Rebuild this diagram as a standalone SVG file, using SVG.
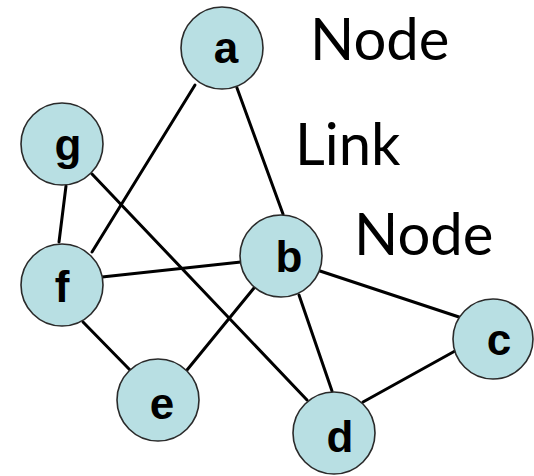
<svg xmlns="http://www.w3.org/2000/svg" width="534" height="476" viewBox="0 0 534 476">
  <style>
    .edge { stroke: #000; stroke-width: 3; stroke-linecap: round; fill: none; }
    .node circle { fill: #b8dfe3; stroke: #2a2a2a; stroke-width: 1.6; }
    .node text { font-family: "Liberation Sans", Arial, sans-serif; font-weight: bold; font-size: 44px; fill: #000; text-anchor: middle; }
    .note { font-family: Lato, "Open Sans", sans-serif; font-size: 58px; fill: #000; }
  </style>
  <rect width="534" height="476" fill="#fff"/>

  <!-- links -->
  <g id="edges">
    <line class="edge" x1="195" y1="85" x2="92" y2="252"/>
    <line class="edge" x1="237" y1="88" x2="283" y2="214"/>
    <line class="edge" x1="66" y1="186" x2="59" y2="242"/>
    <line class="edge" x1="92" y1="174" x2="307" y2="400"/>
    <line class="edge" x1="102" y1="277" x2="241" y2="262"/>
    <line class="edge" x1="83" y1="322" x2="130" y2="370"/>
    <line class="edge" x1="254" y1="288" x2="187" y2="370"/>
    <line class="edge" x1="299" y1="295" x2="332" y2="391"/>
    <line class="edge" x1="320" y1="271" x2="459" y2="317"/>
    <line class="edge" x1="455" y1="351" x2="363" y2="402"/>
  </g>

  <!-- nodes -->
  <g id="node-a" class="node"><circle cx="222" cy="48" r="41"/><text x="226" y="63">a</text></g>
  <g id="node-g" class="node"><circle cx="62" cy="144" r="41"/><text x="68" y="160">g</text></g>
  <g id="node-f" class="node"><circle cx="62" cy="285" r="41"/><text x="62" y="302">f</text></g>
  <g id="node-b" class="node"><circle cx="281" cy="256" r="41"/><text x="289" y="272">b</text></g>
  <g id="node-c" class="node"><circle cx="493" cy="339" r="40"/><text x="499" y="355">c</text></g>
  <g id="node-e" class="node"><circle cx="158" cy="400" r="41"/><text x="162" y="419">e</text></g>
  <g id="node-d" class="node"><circle cx="334" cy="433" r="41"/><text x="340" y="452">d</text></g>

  <!-- annotations -->
  <g id="labels">
    <text class="note" x="310" y="60">Node</text>
    <text class="note" x="295" y="165">Link</text>
    <text class="note" x="354" y="255">Node</text>
  </g>
</svg>
